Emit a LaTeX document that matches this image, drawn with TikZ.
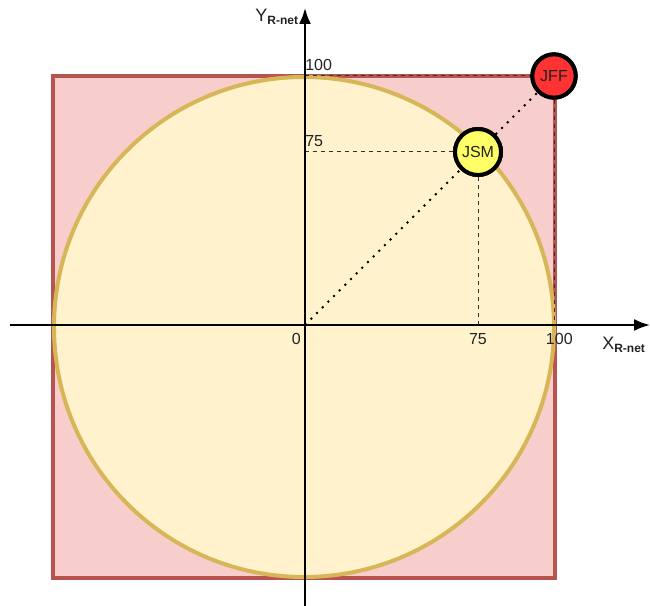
\documentclass[tikz,border=0pt]{standalone}
\usepackage{fontspec}
\setmainfont{Liberation Sans}
\usetikzlibrary{arrows.meta,positioning}
\definecolor{boxred}{HTML}{F8CECC}
\definecolor{boxredline}{HTML}{B85450}
\definecolor{diskyellow}{HTML}{FFF2CC}
\definecolor{diskline}{HTML}{D6B656}
\definecolor{jffred}{HTML}{FF3333}
\definecolor{jsmyellow}{HTML}{FFFF66}
\definecolor{textdark}{HTML}{222222}
\tikzset{
  >=Latex,
  axis/.style={-{Latex[length=12pt,width=9pt]}, line width=1.5pt, draw=black},
  guide/.style={dashed, line width=0.75pt, draw=black!80},
  ray/.style={dash pattern=on 1.5pt off 4.5pt, line width=1.5pt, draw=black},
  tick/.style={font=\fontsize{12}{14}\selectfont, text=textdark, inner sep=0pt},
  axislabel/.style={font=\fontsize{13.5}{16}\selectfont, text=textdark, inner sep=0pt},
  netnode/.style={circle, draw=black, line width=3pt, inner sep=0pt,
    font=\fontsize{12}{14}\selectfont, text=textdark}
}
\newcommand{\rnet}{\textsubscript{\fontsize{9}{10}\selectfont\bfseries R-net}}

\begin{document}
\begin{tikzpicture}[x=0.75pt,y=0.75pt]
\useasboundingbox (-305,-281) rectangle (345,325);
% area and disk
\filldraw[fill=boxred, draw=boxredline, line width=3pt] (-252,-253) rectangle (250,249);
\filldraw[fill=diskyellow, draw=diskline, line width=3pt] (-1,-2) circle (250);
% axes
\coordinate (O) at (0,0);
\coordinate (xl) at (-295,0);
\coordinate (xr) at (345,0);
\coordinate (yb) at (0,-281);
\coordinate (yt) at (0,317);
\coordinate (y75) at (0,173);
\coordinate (y100) at (0,249);
\coordinate (x75) at (173,0);
\coordinate (x100) at (249,0);
\node[netnode, fill=jsmyellow, minimum size=34.5pt] (jsm) at (173,173) {JSM};
\node[netnode, fill=jffred, minimum size=32.5pt] (jff) at (249,249) {JFF};
\draw[guide] (y75) -- (jsm.west);
\draw[guide] (jsm.south) -- (x75);
\draw[guide] (y100) -- (jff.west);
\draw[guide] (jff.south) -- (x100);
\draw[axis] (xl) -- (xr);
\draw[axis] (yb) -- (yt);
\draw[ray] (O) -- (jsm);
\draw[ray] (jsm) -- (jff);
\node[netnode, fill=jsmyellow, minimum size=34.5pt] at (jsm) {JSM};
\node[netnode, fill=jffred, minimum size=32.5pt] at (jff) {JFF};
% labels
\node[tick, anchor=south west] (t100y) at ([yshift=4]y100) {100};
\node[tick, anchor=south west] (t75y) at ([yshift=4]y75) {75};
\node[tick, anchor=north east] (t0) at ([xshift=-3,yshift=-6]O) {0};
\node[tick, anchor=north] (t75x) at ([yshift=-6]x75) {75};
\node[tick, anchor=north] (t100x) at ([xshift=4,yshift=-6]x100) {100};
\node[axislabel, anchor=north west] (xlab) at (297,-12) {X\rnet};
\node[axislabel, anchor=south east] (ylab) at (-6,300) {Y\rnet};
\end{tikzpicture}
\end{document}
